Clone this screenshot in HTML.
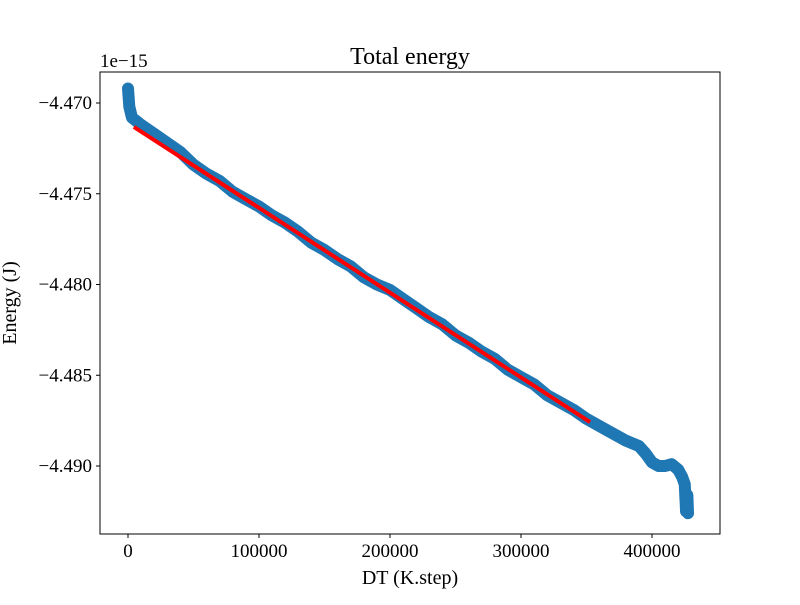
<!DOCTYPE html>
<html><head><meta charset="utf-8"><style>
body{margin:0;background:#fff}
svg text{font-family:"Liberation Serif",serif;fill:#000}
</style></head><body>
<svg id="chart" width="800" height="600" xmlns="http://www.w3.org/2000/svg">
<rect width="800" height="600" fill="#fff"/>
<g id="plot"></g>
<rect x="100" y="72" width="620" height="462" fill="none" stroke="#000" stroke-width="1"/>
<g id="xticks"></g><g id="yticks"></g>
<text x="410" y="64" font-size="24" text-anchor="middle">Total energy</text>
<text x="410" y="584" font-size="20" text-anchor="middle">DT (K.step)</text>
<text x="0" y="0" font-size="20" text-anchor="middle" transform="translate(16,303) rotate(-90)">Energy (J)</text>
<text x="100" y="67" font-size="19">1e−15</text>
</svg>
<script>
const xs=[0,1000,3000,10000,20000,30000,40000,50000,60000,70000,80000,90000,100000,110000,120000,130000,140000,150000,160000,170000,180000,190000,200000,210000,220000,230000,240000,250000,260000,270000,280000,290000,300000,310000,320000,330000,340000,350000,360000,370000,380000,390000,395000,400000,405000,410000,415000,420000,423000,425000,426000,427000,427500];
const ys=[-4.4692,-4.4702,-4.4708,-4.4712,-4.4717,-4.4722,-4.4727,-4.4734,-4.4739,-4.4743,-4.4749,-4.4753,-4.4757,-4.4762,-4.4766,-4.4771,-4.4777,-4.4781,-4.4786,-4.4790,-4.4796,-4.4800,-4.4803,-4.4808,-4.4813,-4.4818,-4.4822,-4.4828,-4.4832,-4.4837,-4.4841,-4.4847,-4.4851,-4.4855,-4.4861,-4.4865,-4.4869,-4.4874,-4.4878,-4.4882,-4.4886,-4.4889,-4.4893,-4.4898,-4.4900,-4.4900,-4.4899,-4.4902,-4.4906,-4.4910,-4.4925,-4.4916,-4.4926];
const fitX=[4500,352700];
const fitY=[-4.47132,-4.48758];
const xTicks=[0,100000,200000,300000,400000];
const xTickLabels=["0","100000","200000","300000","400000"];
const yTicks=[-4.470,-4.475,-4.480,-4.485,-4.490];
const yTickLabels=["−4.470","−4.475","−4.480","−4.485","−4.490"];
const NS="http://www.w3.org/2000/svg";
const X=v=>128+v*0.00131;
const Y=v=>103+(-4.470-v)/0.005*90.75;
const plot=document.getElementById('plot');
function mk(t,a,p){const e=document.createElementNS(NS,t);for(const k in a)e.setAttribute(k,a[k]);p.appendChild(e);return e;}
const blue=mk('polyline',{points:xs.map((x,i)=>X(x)+','+Y(ys[i])).join(' '),fill:'none',stroke:'#1f77b4','stroke-width':12,'stroke-linejoin':'round','stroke-linecap':'round'},plot);


const red=mk('line',{x1:X(fitX[0]),y1:Y(fitY[0]),x2:X(fitX[1]),y2:Y(fitY[1]),stroke:'#ff0000','stroke-width':4},plot);


const xg=document.getElementById('xticks');
xTicks.forEach((t,i)=>{
 const l=mk('line',{x1:X(t),x2:X(t),y1:534,y2:538,stroke:'#000'},xg);
 
 
 const tx=mk('text',{x:X(t),y:557,'font-size':19,'text-anchor':'middle'},xg);
 tx.textContent=xTickLabels[i];
 
 
});
const yg=document.getElementById('yticks');
yTicks.forEach((t,i)=>{
 const l=mk('line',{x1:96,x2:100,y1:Y(t),y2:Y(t),stroke:'#000'},yg);
 
 
 const tx=mk('text',{x:92,y:Y(t)+6,'font-size':19,'text-anchor':'end'},yg);
 tx.textContent=yTickLabels[i];
 
 
});
</script>
</body></html>
